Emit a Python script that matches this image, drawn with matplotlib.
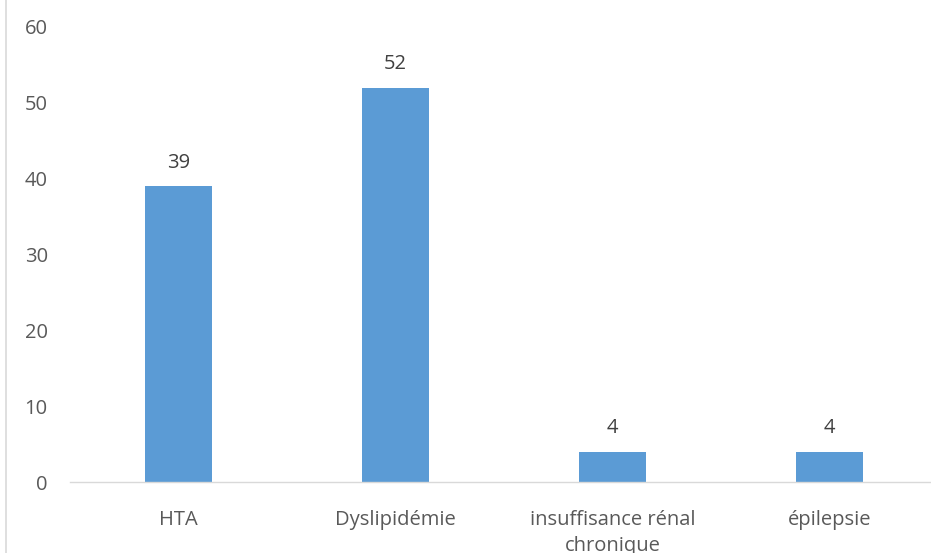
import matplotlib.pyplot as plt
from matplotlib.lines import Line2D

categories = ["HTA", "Dyslipidémie", "insuffisance rénal\nchronique", "épilepsie"]
values = [39, 52, 4, 4]
yticks = [0, 10, 20, 30, 40, 50, 60]

plt.rcParams['font.family'] = ['Open Sans', 'DejaVu Sans']

fig = plt.figure(figsize=(9.31, 5.53), dpi=100)
ax = fig.add_axes([70 / 931, 71 / 553, 868 / 931, 455 / 553])

x = range(len(categories))
bars = ax.bar(x, values, width=0.31, color='#5b9bd5', zorder=2)

for b, v in zip(bars, values):
    ax.text(b.get_x() + b.get_width() / 2, v + 1.8, str(v), ha='center', va='bottom',
            fontsize=14.5, color='#404040')

ax.set_xlim(-0.5, 3.5)
ax.set_ylim(0, 60)
ax.set_yticks(yticks)
ax.set_yticklabels(yticks, fontsize=14.5, color='#595959')
ax.set_xticks(list(x))
ax.set_xticklabels(categories, fontsize=14.5, color='#595959', linespacing=1.4)
ax.tick_params(axis='both', length=0)
ax.tick_params(axis='y', pad=16)
ax.tick_params(axis='x', pad=20)

for s in ['top', 'right', 'left']:
    ax.spines[s].set_visible(False)
ax.spines['bottom'].set_color('#d9d9d9')
ax.spines['bottom'].set_linewidth(1.0)

# thin frame line on the left edge of the chart area
fig.add_artist(Line2D([6 / 931, 6 / 931], [0, 1], color='#d9d9d9', linewidth=1.2))

fig.savefig("out.png", dpi=100)
